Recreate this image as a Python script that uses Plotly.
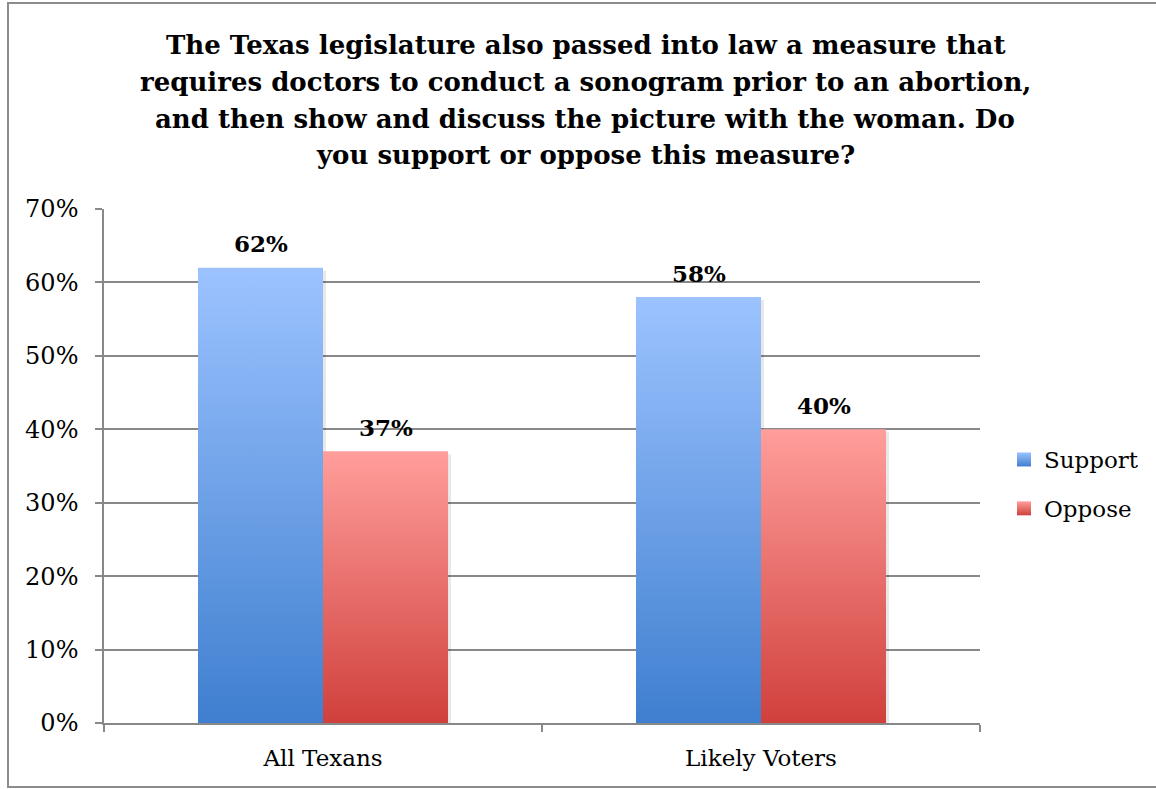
import plotly.graph_objects as go

# Survey results (percent)
groups = ["All Texans", "Likely Voters"]
support = [62, 58]
oppose = [37, 40]
y_ticks = [0, 10, 20, 30, 40, 50, 60, 70]
y_tick_labels = [f"{v}%" for v in y_ticks]

title_lines = [
    "The Texas legislature also passed into law a measure that",
    "requires doctors to conduct a sonogram prior to an abortion,",
    "and then show and discuss the picture with the woman. Do",
    "you support or oppose this measure?",
]

W, H = 1156, 789
L, R, T, B = 104, 176, 209, 66
plot_w = W - L - R
plot_h = H - T - B

BAR_W = 0.2854  # bar width as a fraction of one category slot
GRID = "#888888"
SERIF = "DejaVu Serif"

series = [
    ("Support", support, -1, "#3f7fcf", "#9cc3ff"),
    ("Oppose", oppose, 0, "#d0403c", "#ff9e9b"),
]


def px_to_paper_y(py):
    return (T + plot_h - py) / plot_h


def px_to_paper_x(px):
    return (px - L) / plot_w


fig = go.Figure()

# soft drop shadow behind every bar
sx = 3.0 / (plot_w / len(groups))
sy = 3.0 / (plot_h / 70.0)
for name, vals, side, dark, light in series:
    for i, v in enumerate(vals):
        c = i + 0.5
        x0, x1 = c + side * BAR_W, c + (side + 1) * BAR_W
        fig.add_trace(go.Scatter(
            x=[x0 + sx, x1 + sx, x1 + sx, x0 + sx, x0 + sx],
            y=[-sy, -sy, v - sy, v - sy, -sy],
            fill="toself", mode="none", fillcolor="rgba(0,0,0,0.09)",
            showlegend=False, hoverinfo="skip"))

# gradient-filled bars with value labels
for name, vals, side, dark, light in series:
    for i, v in enumerate(vals):
        c = i + 0.5
        x0, x1 = c + side * BAR_W, c + (side + 1) * BAR_W
        fig.add_trace(go.Scatter(
            x=[x0, x1, x1, x0, x0],
            y=[0, 0, v, v, 0],
            fill="toself", mode="none",
            fillgradient=dict(type="vertical",
                              colorscale=[[0, dark], [1, light]]),
            showlegend=False, name=name,
            hovertemplate=f"{groups[i]}<br>{name}: {v}%<extra></extra>"))
        fig.add_annotation(x=(x0 + x1) / 2, y=v, text=f"<b>{v}%</b>",
                           showarrow=False, yanchor="middle", yshift=24,
                           font=dict(family=SERIF, size=23, color="#000000"))

# legend entries
for name, vals, side, dark, light in series:
    fig.add_trace(go.Scatter(
        x=[None], y=[None], mode="markers", name=name, legendgroup=name,
        marker=dict(symbol="square", size=14, color=light,
                    gradient=dict(type="vertical", color=dark),
                    line=dict(width=0))))

# title, one annotation per line
for k, line in enumerate(title_lines):
    fig.add_annotation(xref="paper", yref="paper",
                       x=px_to_paper_x(585), y=px_to_paper_y(45 + 36.8 * k),
                       text=f"<b>{line}</b>", showarrow=False,
                       xanchor="center", yanchor="middle",
                       font=dict(family=SERIF, size=26, color="#000000"))

# outer chart frame
fig.add_shape(type="rect", xref="paper", yref="paper",
              x0=px_to_paper_x(8), x1=px_to_paper_x(W + 10),
              y0=px_to_paper_y(787), y1=px_to_paper_y(3),
              line=dict(color="#8c8c8c", width=2), layer="below")

fig.update_layout(
    width=W, height=H,
    margin=dict(l=L, r=R, t=T, b=B),
    paper_bgcolor="white", plot_bgcolor="white",
    font=dict(family=SERIF, size=23, color="#000000"),
    showlegend=True,
    legend=dict(x=px_to_paper_x(1004), y=px_to_paper_y(484),
                xanchor="left", yanchor="middle",
                traceorder="grouped", tracegroupgap=16,
                font=dict(family=SERIF, size=23, color="#000000"),
                bgcolor="rgba(0,0,0,0)"),
    xaxis=dict(range=[0, len(groups)], tickmode="array",
               tickvals=[i + 0.5 for i in range(len(groups))],
               ticktext=groups, ticks="", showgrid=False, zeroline=False,
               showline=True, linecolor=GRID, linewidth=1.5,
               tickfont=dict(family=SERIF, size=23), ticklabelstandoff=14,
               minor=dict(tickmode="array",
                          tickvals=list(range(len(groups) + 1)),
                          ticks="outside", ticklen=7, tickcolor=GRID,
                          tickwidth=1.5, showgrid=False),
               fixedrange=True),
    yaxis=dict(range=[0, 70], tickmode="array", tickvals=y_ticks,
               ticktext=y_tick_labels, ticks="outside", ticklen=7,
               tickcolor=GRID, tickwidth=1.5, showgrid=True,
               gridcolor=GRID, gridwidth=1.5, zeroline=False,
               showline=True, linecolor=GRID, linewidth=1.5,
               tickfont=dict(family=SERIF, size=24), ticklabelstandoff=12,
               fixedrange=True),
)

fig.write_html("out.html")
